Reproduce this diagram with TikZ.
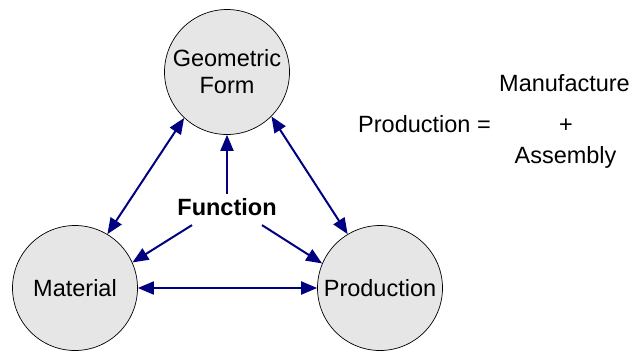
\documentclass[tikz,border=0pt]{standalone}
\usepackage{fontspec}
\setmainfont{Liberation Sans}
\usetikzlibrary{arrows.meta,calc}
\definecolor{arrowblue}{RGB}{0,0,128}
\definecolor{circfill}{RGB}{230,230,230}
\begin{document}
\begin{tikzpicture}[x=1pt,y=-1pt,
  bubble/.style={circle,draw=black,line width=0.7pt,fill=circfill,minimum size=125pt,inner sep=0pt,align=center,font=\fontsize{23.5}{27}\selectfont},
  lbl/.style={inner sep=0pt,anchor=base,font=\fontsize{23.5}{27}\selectfont},
  link/.style={draw=arrowblue,line width=2pt,-{Triangle[length=16pt,width=13pt]}},
  dlink/.style={draw=arrowblue,line width=2pt,{Triangle[length=16pt,width=13pt]}-{Triangle[length=16pt,width=13pt]}}]
\useasboundingbox (0,0) rectangle (634,351);
\node[bubble] (geo) at (227,72) {Geometric\\Form};
\node[bubble] (mat) at (75,288) {Material};
\node[bubble] (prod) at (380,288) {Production};
\node[lbl,font=\fontsize{23.5}{27}\selectfont\bfseries,inner sep=4pt] (fun) at (227,215) {Function};
\node[lbl] (manu) at (564.5,91) {Manufacture};
\node[lbl] (peq) at (424.5,132) {Production =};
\node[lbl] (plus) at (566,132) {+};
\node[lbl] (asm) at (565.5,163) {Assembly};
\draw[dlink] (mat.59) -- (geo.227);
\draw[dlink] (geo.315) -- (prod.121);
\draw[dlink] (mat.east) -- (prod.west);
\draw[link] (fun.north) -- (geo.south);
\draw[link] ($(fun.center)+(-35,18.5)$) -- (mat.24);
\draw[link] ($(fun.center)+(35,18.5)$) -- (prod.157);
\end{tikzpicture}
\end{document}
